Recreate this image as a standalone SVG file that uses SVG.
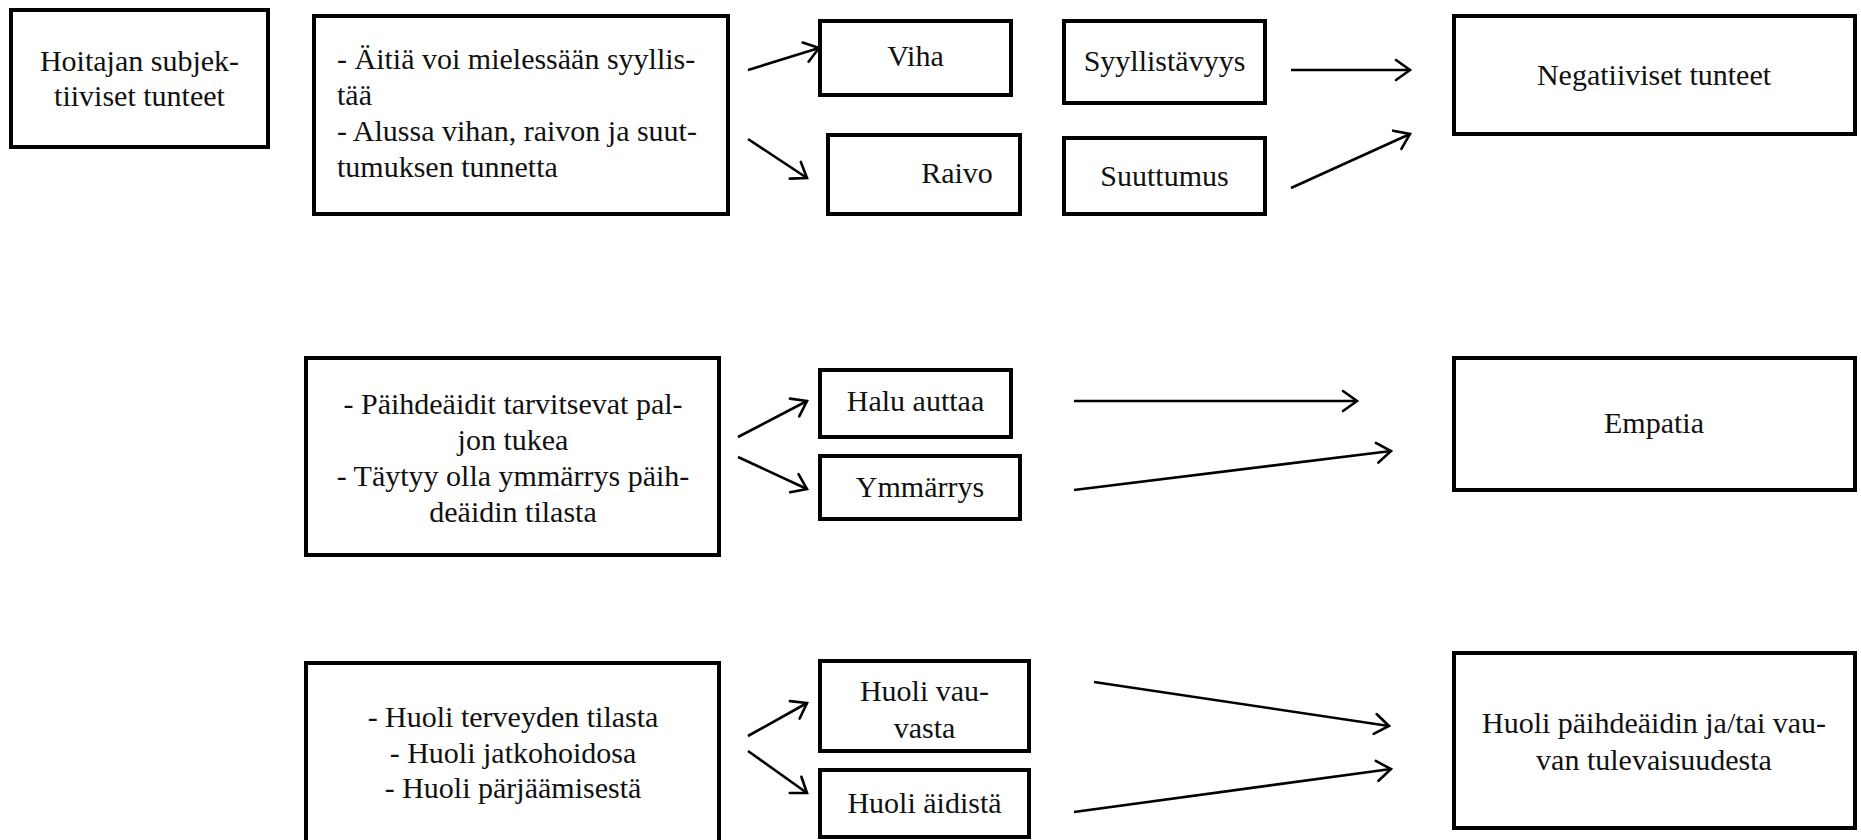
<svg xmlns="http://www.w3.org/2000/svg" width="1861" height="840" viewBox="0 0 1861 840">
  <style>
    .box { fill: #fff; stroke: #000; stroke-width: 4; }
    .lbl { font-family: "Liberation Serif", "Times New Roman", serif; font-size: 30px; fill: #111; }
    .mid { text-anchor: middle; }
    .edge { stroke: #000; stroke-width: 2.6; fill: none; marker-end: url(#arrow); }
  </style>
  <defs>
    <marker id="arrow" markerUnits="userSpaceOnUse" markerWidth="24" markerHeight="24" viewBox="-2 -12 18 24" refX="14" refY="0" orient="auto">
      <path d="M0,-10 L14,0 L0,10" fill="none" stroke="#000" stroke-width="2.6" stroke-linecap="round" stroke-linejoin="miter"/>
    </marker>
  </defs>
  <rect width="1861" height="840" fill="#fff"/>

  <!-- Row 1: subjective feelings -->
  <g id="n-hoitajan">
    <rect class="box" x="11" y="10" width="257" height="137"/>
    <text class="lbl mid" x="139.5" y="71">Hoitajan subjek-</text>
    <text class="lbl mid" x="139.5" y="106">tiiviset tunteet</text>
  </g>
  <g id="n-aitia">
    <rect class="box" x="314" y="16" width="414" height="198"/>
    <text class="lbl" x="337" y="69">- Äitiä voi mielessään syyllis-</text>
    <text class="lbl" x="337" y="105">tää</text>
    <text class="lbl" x="337" y="141">- Alussa vihan, raivon ja suut-</text>
    <text class="lbl" x="337" y="177">tumuksen tunnetta</text>
  </g>
  <g id="n-viha">
    <rect class="box" x="820" y="21" width="191" height="74"/>
    <text class="lbl mid" x="915.5" y="66">Viha</text>
  </g>
  <g id="n-raivo">
    <rect class="box" x="828" y="135" width="192" height="79"/>
    <text class="lbl mid" x="957" y="183">Raivo</text>
  </g>
  <g id="n-syyllistavyys">
    <rect class="box" x="1064" y="21" width="201" height="82"/>
    <text class="lbl mid" x="1164.5" y="71">Syyllistävyys</text>
  </g>
  <g id="n-suuttumus">
    <rect class="box" x="1064" y="138" width="201" height="76"/>
    <text class="lbl mid" x="1164.5" y="186">Suuttumus</text>
  </g>
  <g id="n-negatiiviset">
    <rect class="box" x="1454" y="16" width="401" height="118"/>
    <text class="lbl mid" x="1654" y="85">Negatiiviset tunteet</text>
  </g>

  <!-- Row 2: empathy -->
  <g id="n-paihdeaidit">
    <rect class="box" x="306" y="358" width="413" height="197"/>
    <text class="lbl mid" x="513" y="414">- Päihdeäidit tarvitsevat pal-</text>
    <text class="lbl mid" x="513" y="450">jon tukea</text>
    <text class="lbl mid" x="513" y="486">- Täytyy olla ymmärrys päih-</text>
    <text class="lbl mid" x="513" y="522">deäidin tilasta</text>
  </g>
  <g id="n-halu">
    <rect class="box" x="820" y="370" width="191" height="67"/>
    <text class="lbl mid" x="915.5" y="411">Halu auttaa</text>
  </g>
  <g id="n-ymmarrys">
    <rect class="box" x="820" y="456" width="200" height="63"/>
    <text class="lbl mid" x="920" y="497">Ymmärrys</text>
  </g>
  <g id="n-empatia">
    <rect class="box" x="1454" y="358" width="401" height="132"/>
    <text class="lbl mid" x="1654" y="433">Empatia</text>
  </g>

  <!-- Row 3: worry -->
  <g id="n-huoli-lista">
    <rect class="box" x="306" y="663" width="413" height="190"/>
    <text class="lbl mid" x="513" y="727">- Huoli terveyden tilasta</text>
    <text class="lbl mid" x="513" y="763">- Huoli jatkohoidosa</text>
    <text class="lbl mid" x="513" y="798">- Huoli pärjäämisestä</text>
  </g>
  <g id="n-huoli-vauvasta">
    <rect class="box" x="820" y="661" width="209" height="90"/>
    <text class="lbl mid" x="924.5" y="701">Huoli vau-</text>
    <text class="lbl mid" x="924.5" y="738">vasta</text>
  </g>
  <g id="n-huoli-aidista">
    <rect class="box" x="820" y="770" width="209" height="67"/>
    <text class="lbl mid" x="924.5" y="813">Huoli äidistä</text>
  </g>
  <g id="n-huoli-tulevaisuus">
    <rect class="box" x="1454" y="653" width="401" height="175"/>
    <text class="lbl mid" x="1654" y="733" font-size="28">Huoli päihdeäidin ja/tai vau-</text>
    <text class="lbl mid" x="1654" y="770" font-size="28">van tulevaisuudesta</text>
  </g>

  <!-- Connectors -->
  <g id="edges">
    <line class="edge" x1="748" y1="70" x2="819" y2="48"/>
    <line class="edge" x1="748" y1="139" x2="807" y2="178"/>
    <line class="edge" x1="1291" y1="70" x2="1410" y2="70"/>
    <line class="edge" x1="1291" y1="188" x2="1410" y2="134"/>

    <line class="edge" x1="738" y1="437" x2="807" y2="401"/>
    <line class="edge" x1="738" y1="457" x2="807" y2="489"/>
    <line class="edge" x1="1074" y1="401" x2="1357" y2="401"/>
    <line class="edge" x1="1074" y1="490" x2="1391" y2="451"/>

    <line class="edge" x1="748" y1="736" x2="807" y2="703"/>
    <line class="edge" x1="748" y1="751" x2="807" y2="793"/>
    <line class="edge" x1="1094" y1="682" x2="1389" y2="726"/>
    <line class="edge" x1="1074" y1="812" x2="1391" y2="769"/>
  </g>
</svg>
